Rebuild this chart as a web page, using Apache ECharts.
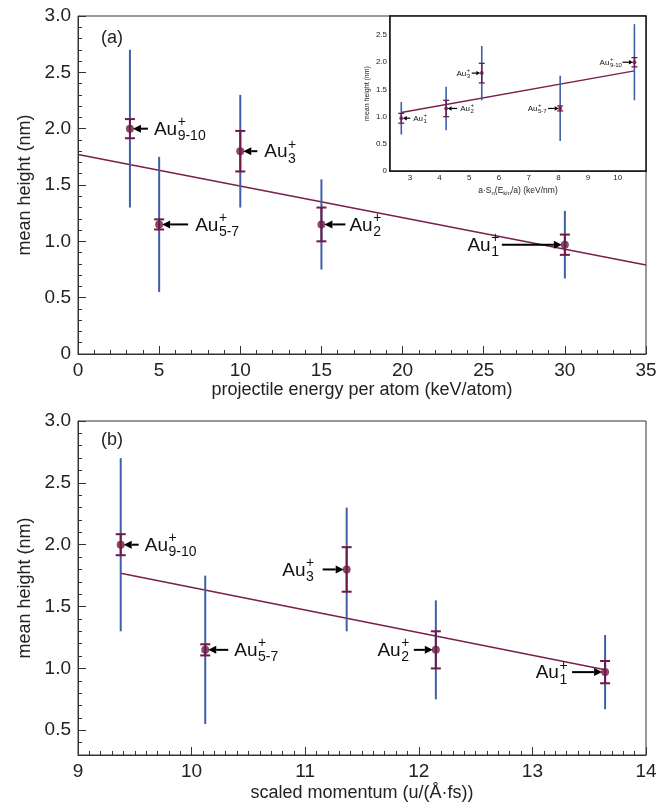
<!DOCTYPE html>
<html>
<head>
<meta charset="utf-8">
<script src="https://cdn.jsdelivr.net/npm/echarts@6/dist/echarts.min.js"></script>
<style>
  html, body { margin: 0; padding: 0; background: #fff; }
  #chart { width: 668px; height: 803px; }
</style>
</head>
<body>
<div id="chart"></div>
<script>
// Au_n^+ cluster sizes, in the order Au1, Au2, Au3, Au5-7, Au9-10
const ions = ['1', '2', '3', '5-7', '9-10'];
const meanHeight = [0.97, 1.15, 1.80, 1.15, 2.00];
const errStat = [0.09, 0.15, 0.18, 0.045, 0.085];   // short maroon bars
const errSpread = [0.30, 0.40, 0.50, 0.60, 0.70];   // long blue bars

const energyPerAtom = [30, 15, 10, 5, 3.2];
const scaledMomentum = [13.64, 12.15, 11.365, 10.12, 9.376];
const nuclearStopping = [2.71, 4.22, 5.42, 8.06, 10.56];

const fitEnergy = [[0, 1.77], [35, 0.79]];
const fitMomentum = [[9.376, 1.77], [13.64, 0.99]];
const fitStopping = [[2.71, 1.075], [10.56, 1.84]];

const ticksEnergy = [0, 5, 10, 15, 20, 25, 30, 35];
const ticksHeightA = [0, 0.5, 1, 1.5, 2, 2.5, 3];
const ticksMomentum = [9, 10, 11, 12, 13, 14];
const ticksHeightB = [0.5, 1, 1.5, 2, 2.5, 3];
const ticksStopping = [3, 4, 5, 6, 7, 8, 9, 10];
const ticksHeightInset = [0, 0.5, 1, 1.5, 2, 2.5];

// where each annotation sits: side (-1 left / 1 right), arrow tail and text gap in px
const layoutA = { side: [-1, 1, 1, 1, 1], tail: [63, 24, 17, 29, 18], gap: [66, 28, 24, 36, 24] };
const layoutB = { side: [-1, -1, -1, 1, 1], tail: [33, 22, 24, 23, 18], gap: [38, 27, 33, 29, 24] };
const layoutInset = { side: [1, 1, -1, -1, -1], tail: [9, 11, 10, 12, 12], gap: [12, 14, 12, 14, 13] };

const FONT = '"Liberation Sans", Arial, sans-serif';
const TEXT = '#222';
const AXIS = '#333';
const BLUE = '#3f5fa9';
const MAROON = '#6d1a45';
const FIT = '#7a1f4f';

const big = { font: 19, sub: 14, tipGap: 3, head: 8, headH: 4, arrowW: 2, cap: 5, blueW: 2, barW: 2, dot: 8 };
const small = { font: 8, sub: 6, tipGap: 1.5, head: 4, headH: 2.2, arrowW: 1.2, cap: 3, blueW: 1.6, barW: 1.3, dot: 4 };

const measure = document.createElement('canvas').getContext('2d');
function textW(s, size) {
  measure.font = size + 'px ' + FONT;
  return measure.measureText(s).width;
}

const fmtHeight = v => (v === 0 ? '0' : v.toFixed(1));

function valueAxis(grid, min, max, ticks, fmt, size, extra) {
  return Object.assign({
    type: 'value', gridIndex: grid, min: min, max: max,
    axisLine: { show: true, onZero: false, lineStyle: { color: AXIS, width: 1 } },
    axisTick: { show: true, inside: true, length: size > 12 ? 8 : 4, customValues: ticks, lineStyle: { color: AXIS } },
    axisLabel: { customValues: ticks, formatter: fmt, color: TEXT, fontSize: size, fontFamily: FONT, margin: size > 12 ? 7 : 3 },
    splitLine: { show: false }
  }, extra);
}

function minorAxis(grid, min, max, step, len, position) {
  const vals = [];
  for (let k = Math.ceil(min / step - 1e-9); k * step <= max + 1e-9; k++) vals.push(+(k * step).toFixed(4));
  return {
    type: 'value', gridIndex: grid, min: min, max: max, position: position, offset: 0,
    axisLine: { show: false }, axisLabel: { show: false }, splitLine: { show: false },
    axisTick: { show: true, inside: true, length: len, customValues: vals, lineStyle: { color: AXIS } }
  };
}

function fitSeries(i, data) {
  return {
    type: 'line', xAxisIndex: i, yAxisIndex: i, data: data, showSymbol: false, silent: true, z: 2,
    lineStyle: { color: FIT, width: i === 2 ? 1.4 : 1.5 }
  };
}

function errorSeries(i, xs, st) {
  return {
    type: 'custom', xAxisIndex: i, yAxisIndex: i, z: 3, silent: true,
    data: xs.map((x, k) => [x, meanHeight[k], errSpread[k], errStat[k]]),
    renderItem(params, api) {
      const x = api.value(0), y = api.value(1);
      const a = api.coord([x, y + api.value(2)]), b = api.coord([x, y - api.value(2)]);
      const c = api.coord([x, y + api.value(3)]), d = api.coord([x, y - api.value(3)]);
      const h = st.cap;
      const bar = { stroke: MAROON, lineWidth: st.barW };
      return {
        type: 'group', children: [
          { type: 'line', shape: { x1: a[0], y1: a[1], x2: b[0], y2: b[1] }, style: { stroke: BLUE, lineWidth: st.blueW } },
          { type: 'line', shape: { x1: c[0], y1: c[1], x2: d[0], y2: d[1] }, style: bar },
          { type: 'line', shape: { x1: c[0] - h, y1: c[1], x2: c[0] + h, y2: c[1] }, style: bar },
          { type: 'line', shape: { x1: d[0] - h, y1: d[1], x2: d[0] + h, y2: d[1] }, style: bar }
        ]
      };
    }
  };
}

function pointSeries(i, xs, st) {
  return {
    type: 'scatter', xAxisIndex: i, yAxisIndex: i, z: 4, silent: true,
    data: xs.map((x, k) => [x, meanHeight[k]]),
    symbolSize: st.dot, itemStyle: { color: MAROON }
  };
}

function labelSeries(i, xs, layout, st) {
  return {
    type: 'custom', xAxisIndex: i, yAxisIndex: i, z: 5, silent: true,
    data: xs.map((x, k) => [x, meanHeight[k], k]),
    renderItem(params, api) {
      const k = api.value(2);
      const p = api.coord([api.value(0), api.value(1)]);
      const s = layout.side[k];
      const y = p[1];
      const tip = p[0] + s * st.tipGap;
      const headBase = tip + s * st.head;
      const tail = p[0] + s * layout.tail[k];
      const wAu = textW('Au', st.font);
      const wScript = Math.max(textW('+', st.sub), textW(ions[k], st.sub));
      const x0 = s > 0 ? p[0] + layout.gap[k] : p[0] - layout.gap[k] - wAu - wScript;
      const txt = (t, x, yy, size) => ({
        type: 'text', x: x, y: yy,
        style: { text: t, fill: '#111', fontSize: size, fontFamily: FONT, align: 'left', verticalAlign: 'middle' }
      });
      return {
        type: 'group', children: [
          { type: 'line', shape: { x1: tail, y1: y, x2: headBase, y2: y }, style: { stroke: '#000', lineWidth: st.arrowW } },
          { type: 'polygon', shape: { points: [[tip, y], [headBase, y - st.headH], [headBase, y + st.headH]] }, style: { fill: '#000' } },
          txt('Au', x0, y + st.font * 0.05, st.font),
          txt('+', x0 + wAu + 0.5, y - st.font * 0.33, st.sub),
          txt(ions[k], x0 + wAu + 0.5, y + st.font * 0.4, st.sub)
        ]
      };
    }
  };
}

const chart = echarts.init(document.getElementById('chart'));
chart.setOption({
  animation: false,
  backgroundColor: '#fff',
  title: [
    { text: '(a)', left: 96, top: 24, textStyle: { fontSize: 18, fontWeight: 'normal', color: TEXT, fontFamily: FONT } },
    { text: '(b)', left: 96, top: 426, textStyle: { fontSize: 18, fontWeight: 'normal', color: TEXT, fontFamily: FONT } }
  ],
  grid: [
    { left: 78, top: 16, width: 568, height: 338, show: true, borderColor: AXIS, borderWidth: 1 },
    { left: 78, top: 421, width: 568, height: 337, show: true, borderColor: AXIS, borderWidth: 1 },
    { left: 390, top: 16, width: 256, height: 155, show: true, backgroundColor: '#fff', borderColor: '#111', borderWidth: 1.5, z: 1 }
  ],
  xAxis: [
    valueAxis(0, 0, 35, ticksEnergy, v => String(v), 19, {
      name: 'projectile energy per atom (keV/atom)', nameLocation: 'middle', nameGap: 27,
      nameTextStyle: { fontSize: 18, color: TEXT, fontFamily: FONT }
    }),
    valueAxis(1, 9, 14, ticksMomentum, v => String(v), 19, {
      name: 'scaled momentum (u/(Å·fs))', nameLocation: 'middle', nameGap: 29,
      nameTextStyle: { fontSize: 18, color: TEXT, fontFamily: FONT }
    }),
    valueAxis(2, 2.33, 10.95, ticksStopping, v => String(v), 8, {
      name: '{t|a·S}{s|n}{t|(E}{s|kin}{t|/a) (keV/nm)}', nameLocation: 'middle', nameGap: 14,
      nameTextStyle: {
        rich: {
          t: { fontSize: 8.5, color: TEXT, fontFamily: FONT },
          s: { fontSize: 6, color: TEXT, fontFamily: FONT, padding: [5, 0, 0, 0] }
        }
      },
      axisLine: { show: true, onZero: false, lineStyle: { color: '#111', width: 1.5 } }
    }),
    minorAxis(0, 0, 35, 1, 4, 'bottom'),
    minorAxis(1, 9, 14, 0.1, 4, 'bottom'),
    minorAxis(2, 2.33, 10.95, 0.5, 2.5, 'bottom')
  ],
  yAxis: [
    valueAxis(0, 0, 3, ticksHeightA, fmtHeight, 19, {
      name: 'mean height (nm)', nameLocation: 'middle', nameGap: 43,
      nameTextStyle: { fontSize: 18, color: TEXT, fontFamily: FONT }
    }),
    valueAxis(1, 0.3, 3, ticksHeightB, fmtHeight, 19, {
      name: 'mean height (nm)', nameLocation: 'middle', nameGap: 43,
      nameTextStyle: { fontSize: 18, color: TEXT, fontFamily: FONT }
    }),
    valueAxis(2, 0, 2.85, ticksHeightInset, fmtHeight, 8, {
      name: 'mean height (nm)', nameLocation: 'middle', nameGap: 19,
      nameTextStyle: { fontSize: 7, color: TEXT, fontFamily: FONT },
      axisLine: { show: true, onZero: false, lineStyle: { color: '#111', width: 1.5 } }
    }),
    minorAxis(0, 0, 3, 0.1, 4, 'left'),
    minorAxis(1, 0.3, 3, 0.1, 4, 'left'),
    minorAxis(2, 0, 2.85, 0.1, 2, 'left')
  ],
  series: [
    fitSeries(0, fitEnergy),
    errorSeries(0, energyPerAtom, big),
    pointSeries(0, energyPerAtom, big),
    labelSeries(0, energyPerAtom, layoutA, big),

    fitSeries(1, fitMomentum),
    errorSeries(1, scaledMomentum, big),
    pointSeries(1, scaledMomentum, big),
    labelSeries(1, scaledMomentum, layoutB, big),

    Object.assign(fitSeries(2, fitStopping), { z: 12 }),
    Object.assign(errorSeries(2, nuclearStopping, small), { z: 13 }),
    Object.assign(pointSeries(2, nuclearStopping, small), { z: 14 }),
    Object.assign(labelSeries(2, nuclearStopping, layoutInset, small), { z: 15 })
  ]
});
</script>
</body>
</html>
